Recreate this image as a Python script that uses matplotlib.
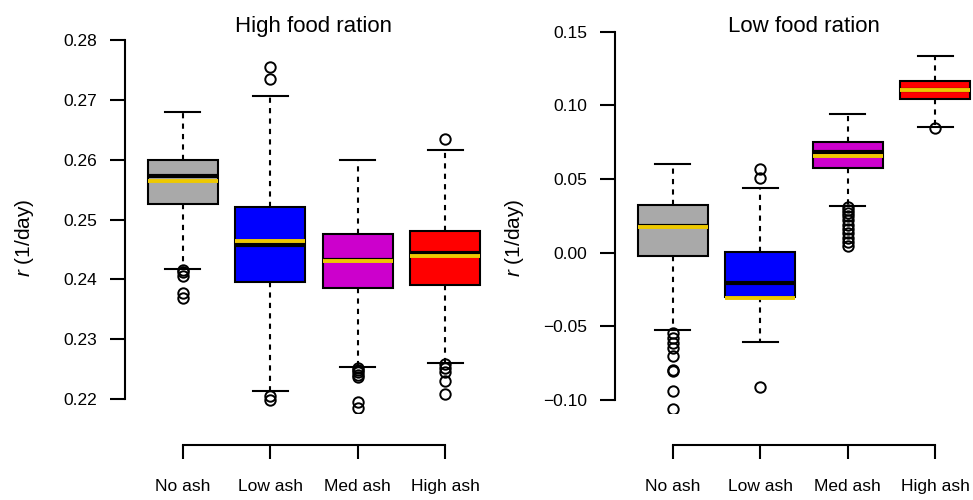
import matplotlib
matplotlib.use("Agg")
import matplotlib.pyplot as plt

plt.rcParams['font.family'] = ['Liberation Sans', 'DejaVu Sans']
plt.rcParams['mathtext.fontset'] = 'custom'
plt.rcParams['mathtext.rm'] = 'Liberation Sans'
plt.rcParams['mathtext.it'] = 'Liberation Sans:italic'

groups = ["No ash", "Low ash", "Med ash", "High ash"]
box_colors = ["#A9A9A9", "#0000FF", "#CC00CC", "#FF0000"]
mean_color = "#EEC900"

# High food ration
high_q1 = [0.2526, 0.2395, 0.2385, 0.2390]
high_q3 = [0.2600, 0.2521, 0.2475, 0.2481]
high_med = [0.2572, 0.2458, 0.2432, 0.2444]
high_mean = [0.2565, 0.2464, 0.2431, 0.2439]
high_wlo = [0.2418, 0.2213, 0.2254, 0.2261]
high_whi = [0.2680, 0.2706, 0.2600, 0.2616]
high_fliers = [
    [0.2416, 0.2412, 0.2405, 0.2378, 0.2369],
    [0.2754, 0.2734, 0.2205, 0.2198],
    [0.2252, 0.2249, 0.2245, 0.2241, 0.2237, 0.2195, 0.2185],
    [0.2634, 0.2258, 0.2252, 0.2245, 0.2230, 0.2208],
]
high_ticks = [0.22, 0.23, 0.24, 0.25, 0.26, 0.27, 0.28]
high_ticklabels = ["0.22", "0.23", "0.24", "0.25", "0.26", "0.27", "0.28"]

# Low food ration
low_q1 = [-0.0020, -0.0304, 0.0575, 0.1040]
low_q3 = [0.0326, 0.0005, 0.0749, 0.1166]
low_med = [0.0178, -0.0206, 0.0681, 0.1105]
low_mean = [0.0175, -0.0305, 0.0659, 0.1103]
low_wlo = [-0.0528, -0.0609, 0.0315, 0.0855]
low_whi = [0.0605, 0.0439, 0.0942, 0.1334]
low_fliers = [
    [-0.0545, -0.0579, -0.0613, -0.0647, -0.0704, -0.0794, -0.0806, -0.0937, -0.1061],
    [0.0507, 0.0571, -0.0915],
    [0.0312, 0.0290, 0.0270, 0.0250, 0.0220, 0.0190, 0.0160, 0.0130, 0.0100, 0.0070, 0.0043],
    [0.0848],
]
low_ticks = [-0.10, -0.05, 0.00, 0.05, 0.10, 0.15]
low_ticklabels = ["\u22120.10", "\u22120.05", "0.00", "0.05", "0.10", "0.15"]


def make_stats(q1, q3, med, mean, wlo, whi, fliers):
    stats = []
    for i in range(len(groups)):
        stats.append(dict(q1=q1[i], q3=q3[i], med=med[i], mean=mean[i],
                          whislo=wlo[i], whishi=whi[i], fliers=fliers[i],
                          label=groups[i]))
    return stats


def draw_panel(ax, stats, ylim, ticks, ticklabels, title, title_x):
    bp = ax.bxp(stats, positions=[1, 2, 3, 4], widths=0.8, capwidths=0.4,
                patch_artist=True, showmeans=True, meanline=True,
                boxprops=dict(edgecolor="black", linewidth=1.5),
                whiskerprops=dict(color="black", linewidth=1.5,
                                  linestyle=(0, (2.5, 2.5))),
                capprops=dict(color="black", linewidth=1.5),
                medianprops=dict(color="black", linewidth=3.0),
                meanprops=dict(color=mean_color, linewidth=2.8, linestyle="-"),
                flierprops=dict(marker="o", markerfacecolor="none",
                                markeredgecolor="black", markersize=7.5,
                                markeredgewidth=1.4))
    for patch, c in zip(bp["boxes"], box_colors):
        patch.set_facecolor(c)

    ax.set_xlim(0.34, 4.66)
    ax.set_ylim(*ylim)
    ax.spines["top"].set_visible(False)
    ax.spines["right"].set_visible(False)
    ax.spines["left"].set_bounds(ticks[0], ticks[-1])
    ax.spines["left"].set_linewidth(1.5)
    ax.spines["bottom"].set_bounds(1, 4)
    ax.spines["bottom"].set_position(("outward", 22.5))
    ax.spines["bottom"].set_linewidth(1.5)

    ax.set_yticks(ticks)
    ax.set_yticklabels(ticklabels)
    ax.set_xticks([1, 2, 3, 4])
    ax.set_xticklabels(groups)
    ax.tick_params(axis="y", direction="out", length=10.5, width=1.5,
                   pad=9.5, labelsize=12.5)
    ax.tick_params(axis="x", direction="out", length=10, width=1.5,
                   pad=15, labelsize=12.5)

    ax.set_ylabel("$r$ (1/day)", fontsize=15)
    ax.yaxis.set_label_coords(-0.236, 0.452)
    fig.text(title_x, 0.9366, title, ha="center", va="baseline", fontsize=16)


fig = plt.figure(figsize=(9.73, 5.0), dpi=100)
ax1 = fig.add_axes([125 / 973, 0.1732, 378 / 973, 0.7756])
ax2 = fig.add_axes([615 / 973, 0.1732, 378 / 973, 0.7756])

draw_panel(ax1, make_stats(high_q1, high_q3, high_med, high_mean, high_wlo,
                           high_whi, high_fliers),
           (0.2176, 0.2824), high_ticks, high_ticklabels,
           "High food ration", 313.5 / 973)
draw_panel(ax2, make_stats(low_q1, low_q3, low_med, low_mean, low_wlo,
                           low_whi, low_fliers),
           (-0.1091, 0.1541), low_ticks, low_ticklabels,
           "Low food ration", 803.5 / 973)

fig.savefig("out.png", dpi=100)
